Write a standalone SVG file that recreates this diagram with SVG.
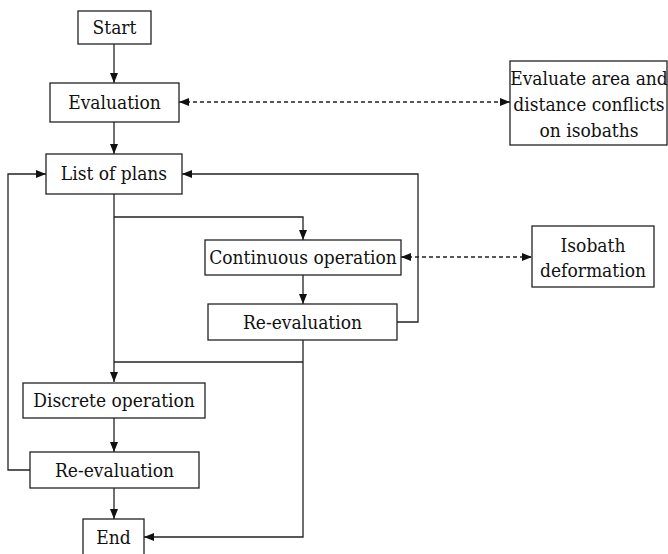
<svg xmlns="http://www.w3.org/2000/svg" width="668" height="554" viewBox="0 0 668 554">
<style>
.box{fill:#fff;stroke:#222;stroke-width:1.3}
.t{font-family:'DejaVu Serif Condensed','DejaVu Serif',serif;font-stretch:condensed;font-size:19px;fill:#111;text-anchor:middle}
.c{fill:none;stroke:#222;stroke-width:1.3}
.d{fill:none;stroke:#222;stroke-width:1.3;stroke-dasharray:4 3}
</style>
<defs>
<marker id="ah" viewBox="0 0 10 8" refX="10" refY="4" markerWidth="10" markerHeight="8" markerUnits="userSpaceOnUse" orient="auto-start-reverse">
<path d="M0,0 L10,4 L0,8 Z" fill="#111"/>
</marker>
</defs>
<rect width="668" height="554" fill="#fff"/>
<g id="connectors">
<path class="c" d="M114,44 V83" marker-end="url(#ah)"/>
<path class="c" d="M114,122 V154" marker-end="url(#ah)"/>
<path class="d" d="M179,102 H510" marker-start="url(#ah)" marker-end="url(#ah)"/>
<path class="c" d="M114,194 V382" marker-end="url(#ah)"/>
<path class="c" d="M114,217 H303 V240" marker-end="url(#ah)"/>
<path class="c" d="M303,275 V304" marker-end="url(#ah)"/>
<path class="d" d="M401,257 H532" marker-start="url(#ah)" marker-end="url(#ah)"/>
<path class="c" d="M397,322 H418 V174 H182" marker-end="url(#ah)"/>
<path class="c" d="M114,362 H303"/>
<path class="c" d="M303,340 V537 H144" marker-end="url(#ah)"/>
<path class="c" d="M114,418 V452" marker-end="url(#ah)"/>
<path class="c" d="M30,470 H8 V174 H46" marker-end="url(#ah)"/>
<path class="c" d="M114,488 V519" marker-end="url(#ah)"/>
</g>
<g id="start"><rect class="box" x="78" y="11" width="73" height="33"/><text class="t" x="114.5" y="34">Start</text></g>
<g id="evaluation"><rect class="box" x="50" y="83" width="129" height="39"/><text class="t" x="114.5" y="109">Evaluation</text></g>
<g id="evaluate-area"><rect class="box" x="510" y="61" width="157" height="84"/><text class="t" x="589" y="85">Evaluate area and</text><text class="t" x="589" y="111">distance conflicts</text><text class="t" x="589" y="137">on isobaths</text></g>
<g id="list-of-plans"><rect class="box" x="46" y="154" width="136" height="40"/><text class="t" x="114" y="180">List of plans</text></g>
<g id="continuous"><rect class="box" x="205" y="240" width="196" height="35"/><text class="t" x="303" y="264">Continuous operation</text></g>
<g id="isobath"><rect class="box" x="532" y="226" width="122" height="61"/><text class="t" x="593" y="252">Isobath</text><text class="t" x="593" y="277">deformation</text></g>
<g id="re-evaluation-1"><rect class="box" x="208" y="304" width="189" height="36"/><text class="t" x="302.5" y="329">Re-evaluation</text></g>
<g id="discrete"><rect class="box" x="23" y="383" width="182" height="35"/><text class="t" x="114" y="407">Discrete operation</text></g>
<g id="re-evaluation-2"><rect class="box" x="30" y="452" width="169" height="36"/><text class="t" x="114.5" y="477">Re-evaluation</text></g>
<g id="end"><rect class="box" x="83" y="519" width="61" height="40"/><text class="t" x="113.5" y="544">End</text></g>
</svg>
